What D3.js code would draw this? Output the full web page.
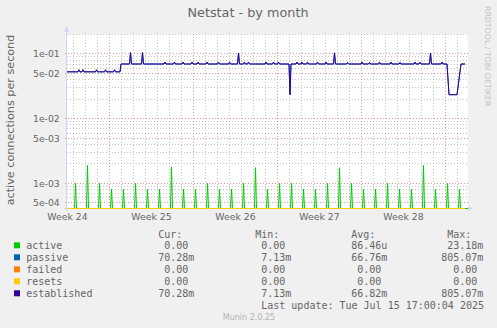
<!DOCTYPE html>
<html>
<head>
  <meta charset="utf-8">
  <title>netstat-month</title>
  <style>
    body { margin: 0; background: #f0f0f0; }
    svg { display: block; }
    text { fill: #666; }
    .sans { font-family: "DejaVu Sans", sans-serif; }
    .mono { font-family: "DejaVu Sans Mono", monospace; white-space: pre; }
  </style>
  <script src="https://cdn.jsdelivr.net/npm/d3@7"></script>
</head>
<body>
<script>

// ---- data ----
var seriesNames  = ["active", "passive", "failed", "resets", "established"];
var seriesColors = ["#00cc00", "#0066b3", "#ff8000", "#ffcc00", "#330099"];
var curValues = [0, 70.28e-3, 0, 0, 70.28e-3];
var minValues = [0, 7.13e-3, 0, 0, 7.13e-3];
var avgValues = [86.46e-6, 66.76e-3, 0, 0, 66.82e-3];
var maxValues = [23.18e-3, 805.07e-3, 0, 0, 805.07e-3];

var yTicks      = [5e-4, 1e-3, 5e-3, 1e-2, 5e-2, 1e-1];
var yTickLabels = ["5e-04", "1e-03", "5e-03", "1e-02", "5e-02", "1e-01"];

var timeStart = "2025-06-12 11:00";
var timeEnd   = "2025-07-15 21:00";

// active: one short spike a day at 04:00, zero in between
var activeFirstSpike = "2025-06-13 04:00";
var activeSpikes = [1.0e-3, 1.9e-3, 1.0e-3, 8.2e-4, 8.2e-4, 1.0e-3, 8.2e-4, 8.2e-4, 1.8e-3,
                    8.2e-4, 8.2e-4, 1.0e-3, 8.2e-4, 8.2e-4, 1.0e-3, 1.75e-3, 8.2e-4, 1.0e-3,
                    1.0e-3, 8.2e-4, 8.2e-4, 1.0e-3, 1.75e-3, 1.0e-3, 8.2e-4, 8.2e-4, 1.0e-3,
                    8.2e-4, 8.2e-4, 1.9e-3, 8.2e-4, 1.0e-3, 8.2e-4];

// established (passive is practically the same curve and sits under it)
var establishedLevels = [
  ["2025-06-12 11:00", 0.053], ["2025-06-16 21:00", 0.053],
  ["2025-06-16 23:00", 0.070], ["2025-07-14 03:00", 0.070],
  ["2025-07-14 07:00", 0.0235], ["2025-07-14 23:00", 0.0235],
  ["2025-07-15 07:00", 0.070], ["2025-07-15 15:00", 0.070]
];
var establishedPeaks = [
  ["2025-06-13 11:00", 0.057], ["2025-06-13 19:00", 0.057], ["2025-06-14 22:00", 0.057],
  ["2025-06-15 16:00", 0.057], ["2025-06-16 10:00", 0.057],
  ["2025-06-17 18:00", 0.105], ["2025-06-18 18:00", 0.105],
  ["2025-06-20 15:00", 0.075], ["2025-06-21 10:00", 0.075], ["2025-06-22 03:00", 0.075],
  ["2025-06-22 21:00", 0.075], ["2025-06-23 09:00", 0.075], ["2025-06-24 03:00", 0.075],
  ["2025-06-25 02:00", 0.075], ["2025-06-26 00:00", 0.075], ["2025-06-26 18:00", 0.103],
  ["2025-06-27 06:00", 0.075], ["2025-06-27 14:00", 0.075], ["2025-06-29 01:00", 0.075],
  ["2025-06-29 16:00", 0.075], ["2025-06-30 02:00", 0.075], ["2025-07-01 01:00", 0.0235],
  ["2025-07-01 15:00", 0.075], ["2025-07-02 01:00", 0.075], ["2025-07-02 12:00", 0.075],
  ["2025-07-03 08:00", 0.075], ["2025-07-04 01:00", 0.075], ["2025-07-04 18:00", 0.104],
  ["2025-07-05 20:00", 0.074], ["2025-07-07 01:00", 0.075], ["2025-07-07 16:00", 0.074],
  ["2025-07-08 12:00", 0.075], ["2025-07-09 11:00", 0.075], ["2025-07-10 05:00", 0.074],
  ["2025-07-11 11:00", 0.075], ["2025-07-11 21:00", 0.074], ["2025-07-12 18:00", 0.103],
  ["2025-07-13 17:00", 0.075]
];

// ---- layout ----
var W = 497, H = 328;
var plot = {left: 67, right: 468, top: 34, bottom: 209};
var step = 2 * 3600e3;   // one pixel = 2 hours

var parse = d3.utcParse("%Y-%m-%d %H:%M");
var t0 = parse(timeStart), t1 = parse(timeEnd);

var x = d3.scaleUtc().domain([t0, t1]).range([plot.left, plot.right]);
var y = d3.scaleLog().domain([4.1e-4, 0.2]).range([208.5, 34.5]).clamp(true);

function yv(v) { return v > 0 ? y(v) : y.range()[0]; }
function crisp(p) { return Math.round(p - 0.5) + 0.5; }

var svg = d3.select("body").append("svg")
  .attr("width", W).attr("height", H);

svg.append("rect").attr("width", W).attr("height", H).attr("fill", "#f0f0f0");
svg.append("rect")
  .attr("x", plot.left).attr("y", plot.top)
  .attr("width", plot.right - plot.left).attr("height", plot.bottom - plot.top)
  .attr("fill", "#ffffff");

// ---- grid ----
var grid = svg.append("g").attr("fill", "none").attr("stroke-dasharray", "1,2");
var minorCol = "rgba(143,143,143,0.52)", majorCol = "rgba(224,80,80,0.6)";

// horizontal minor lines at 2..9 of each decade, major at 1 and 5
var hLines = [];
[1e-4, 1e-3, 1e-2, 1e-1].forEach(function(dec) {
  for (var k = 1; k <= 9; k++) {
    var v = dec * k;
    if (v >= y.domain()[0] && v <= 0.2001) hLines.push({v: v, major: k === 1 || k === 5});
  }
});
grid.selectAll(".hminor").data(hLines.filter(function(d) { return !d.major; }))
  .enter().append("line")
  .attr("x1", plot.left).attr("x2", plot.right)
  .attr("y1", function(d) { return crisp(y(d.v)); })
  .attr("y2", function(d) { return crisp(y(d.v)); })
  .attr("stroke", minorCol);

var days = d3.utcDay.range(t0, t1);
grid.selectAll(".vminor").data(days.filter(function(d) { return d.getUTCDay() !== 1; }))
  .enter().append("line")
  .attr("x1", function(d) { return crisp(x(d)); })
  .attr("x2", function(d) { return crisp(x(d)); })
  .attr("y1", plot.top).attr("y2", plot.bottom - 1)
  .attr("stroke", minorCol);

grid.selectAll(".hmajor").data(hLines.filter(function(d) { return d.major; }))
  .enter().append("line")
  .attr("x1", plot.left - 2).attr("x2", plot.right)
  .attr("y1", function(d) { return crisp(y(d.v)); })
  .attr("y2", function(d) { return crisp(y(d.v)); })
  .attr("stroke", majorCol);

var mondays = d3.utcMonday.range(t0, t1);
grid.selectAll(".vmajor").data(mondays)
  .enter().append("line")
  .attr("x1", function(d) { return crisp(x(d)); })
  .attr("x2", function(d) { return crisp(x(d)); })
  .attr("y1", plot.top).attr("y2", plot.bottom + 2)
  .attr("stroke", majorCol);

// ---- axes ----
var axisCol = "#cfd6f8";
svg.append("line")
  .attr("x1", plot.left - 0.5).attr("x2", plot.left - 0.5)
  .attr("y1", 29).attr("y2", plot.bottom + 2)
  .attr("stroke", axisCol);
svg.append("line")
  .attr("x1", plot.left - 3).attr("x2", plot.right + 2)
  .attr("y1", 208.5).attr("y2", 208.5)
  .attr("stroke", axisCol);
svg.append("path")
  .attr("d", "M" + (plot.left - 0.5) + ",26 L" + (plot.left - 3) + ",32 L" + (plot.left + 2) + ",32 Z")
  .attr("fill", axisCol);
svg.append("path")
  .attr("d", "M473.5,208.5 L468,206 L468,211 Z")
  .attr("fill", axisCol);

svg.append("g").attr("class", "sans").attr("font-size", "9.3px")
  .selectAll("text").data(yTicks).enter().append("text")
  .attr("x", 59.8)
  .attr("y", function(d) { return crisp(y(d)) + 3.3; })
  .attr("text-anchor", "end")
  .text(function(d, i) { return yTickLabels[i]; });

var weekFmt = d3.utcFormat("Week %V");
var weekCenters = d3.utcMonday.range(d3.utcMonday.floor(t0), t1)
  .map(function(d) { return new Date(+d + 3.5 * 86400e3); })
  .filter(function(d) { return d >= t0 && d <= t1; });
svg.append("g").attr("class", "sans").attr("font-size", "9.3px")
  .selectAll("text").data(weekCenters).enter().append("text")
  .attr("x", function(d) { return x(d); })
  .attr("y", 219.5)
  .attr("text-anchor", "middle")
  .text(function(d) { return weekFmt(d); });

// ---- series ----
function levelAt(t) {
  var v = establishedLevels[0][1];
  establishedLevels.forEach(function(p) { if (parse(p[0]) <= t) v = p[1]; });
  return v;
}

var established = establishedLevels.map(function(p) { return [parse(p[0]), p[1]]; });
establishedPeaks.forEach(function(p) {
  var t = parse(p[0]);
  var before = new Date(+t - step), after = new Date(+t + step);
  established.push([before, levelAt(before)], [t, p[1]], [after, levelAt(after)]);
});
established.sort(function(a, b) { return a[0] - b[0]; });

var tFirst = parse(activeFirstSpike);
var active = [[t0, 0]];
activeSpikes.forEach(function(v, i) {
  var t = d3.utcDay.offset(tFirst, i);
  active.push([new Date(+t - step), 0], [t, v], [new Date(+t + step), 0]);
});
active.push([t1, 0]);

var flatZero = [[t0, 0], [parse("2025-07-15 15:00"), 0]];

var seriesData = [active, established, flatZero, flatZero, established];

var line = d3.line()
  .x(function(d) { return x(d[0]); })
  .y(function(d) { return yv(d[1]); });

svg.append("g").selectAll("path").data(seriesData).enter().append("path")
  .attr("d", line)
  .attr("fill", "none")
  .attr("stroke", function(d, i) { return seriesColors[i]; })
  .attr("stroke-width", 1);

// ---- titles ----
svg.append("text").attr("class", "sans")
  .attr("x", 248).attr("y", 16.7)
  .attr("text-anchor", "middle").attr("font-size", "12.8px")
  .text("Netstat - by month");

svg.append("text").attr("class", "sans")
  .attr("transform", "translate(14,120) rotate(-90)")
  .attr("text-anchor", "middle").attr("font-size", "11.2px")
  .text("active connections per second");

svg.append("text").attr("class", "sans")
  .attr("transform", "translate(485,6) rotate(90)")
  .attr("font-size", "7.8px").style("fill", "#c4c4c4")
  .text("RRDTOOL / TOBI OETIKER");

// ---- legend ----
function fmt(v) {
  var s, suf;
  if (v === 0) { s = "0.00"; suf = " "; }
  else if (v < 1e-3) { s = (v * 1e6).toFixed(2); suf = "u"; }
  else if (v < 1) { s = (v * 1e3).toFixed(2); suf = "m"; }
  else { s = v.toFixed(2); suf = " "; }
  while (s.length < 6) s = " " + s;
  return s + suf;
}

var legend = svg.append("g").attr("class", "mono").attr("font-size", "10px");
var colX = [152.2, 249.2, 345.2, 441.2];
["Cur:", "Min:", "Avg:", "Max:"].forEach(function(h, j) {
  legend.append("text").attr("x", colX[j] + 6).attr("y", 237.5).text(h);
});

var rows = legend.selectAll(".row").data(seriesNames).enter().append("g")
  .attr("transform", function(d, i) { return "translate(0," + (249.3 + i * 12) + ")"; });
rows.append("rect")
  .attr("x", 14).attr("y", -7).attr("width", 6).attr("height", 6)
  .attr("fill", function(d, i) { return seriesColors[i]; });
rows.append("text").attr("x", 26.2).text(function(d) { return d; });
[curValues, minValues, avgValues, maxValues].forEach(function(arr, j) {
  rows.append("text")
    .attr("x", colX[j])
    .attr("xml:space", "preserve")
    .text(function(d, i) { return fmt(arr[i]); });
});

legend.append("text")
  .attr("x", 484).attr("y", 309.3).attr("text-anchor", "end")
  .text("Last update: Tue Jul 15 17:00:04 2025");

svg.append("text").attr("class", "sans")
  .attr("x", 249).attr("y", 320).attr("text-anchor", "middle")
  .attr("font-size", "8px").style("fill", "#b4b4b4")
  .text("Munin 2.0.25");

</script>
</body>
</html>
